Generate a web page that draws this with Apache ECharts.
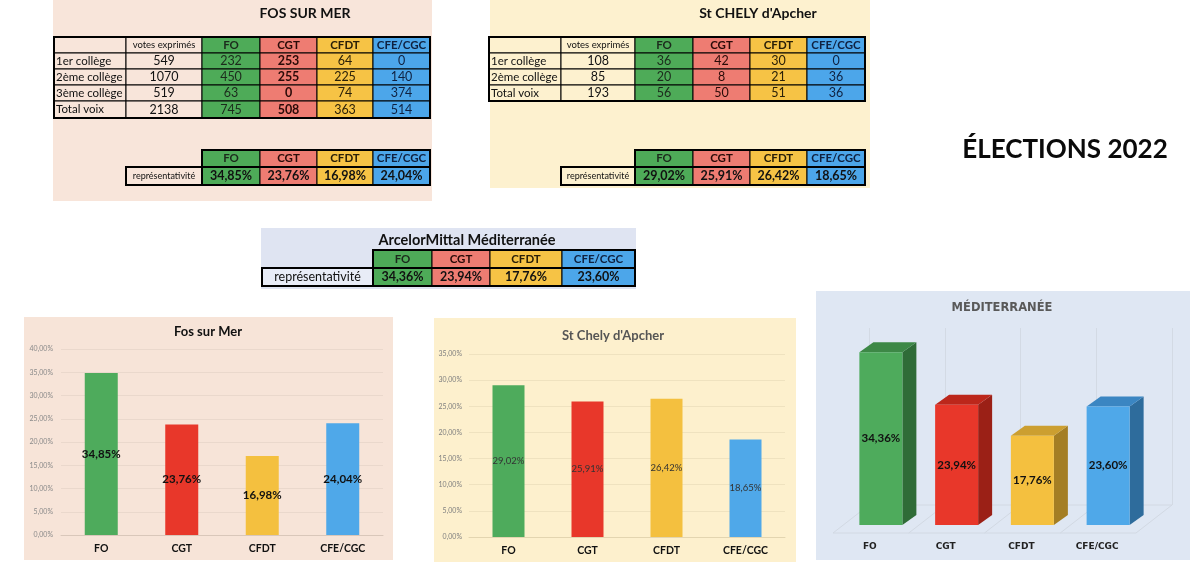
<!DOCTYPE html>
<html><head><meta charset="utf-8">
<script src="https://cdn.jsdelivr.net/npm/echarts@6.0.0/dist/echarts.min.js"></script>
<style>html,body{margin:0;padding:0;background:#fff}#c{width:1200px;height:566px}</style>
</head><body><div id="c"></div>
<script>
// ---------- DATA ----------
const parties = ['FO', 'CGT', 'CFDT', 'CFE/CGC'];
const fosRowLabels = ['1er collège', '2ème collège', '3ème collège', 'Total voix'];
const fosVotes = [549, 1070, 519, 2138];
const fosFO = [232, 450, 63, 745];
const fosCGT = [253, 255, 0, 508];
const fosCFDT = [64, 225, 74, 363];
const fosCFE = [0, 140, 374, 514];
const fosRep = [34.85, 23.76, 16.98, 24.04];

const chelyRowLabels = ['1er collège', '2ème collège', 'Total voix'];
const chelyVotes = [108, 85, 193];
const chelyFO = [36, 20, 56];
const chelyCGT = [42, 8, 50];
const chelyCFDT = [30, 21, 51];
const chelyCFE = [0, 36, 36];
const chelyRep = [29.02, 25.91, 26.42, 18.65];

const medRep = [34.36, 23.94, 17.76, 23.60];

const fosTitle = 'FOS SUR MER';
const chelyTitle = "St CHELY d'Apcher";
const medTableTitle = 'ArcelorMittal Méditerranée';
const mainTitle = 'ÉLECTIONS 2022';
const chart1Title = 'Fos sur Mer';
const chart2Title = "St Chely d'Apcher";
const chart3Title = 'MÉDITERRANÉE';
const votesHeader = 'votes exprimés';
const repLabel = 'représentativité';

// ---------- STYLE ----------
const fmt = v => v.toFixed(2).replace('.', ',') + '%';
const cellFill = ['#4eab58', '#ee7c72', '#f6c345', '#4ca6ea'];
const barFill = ['#4eab5c', '#e8372a', '#f4c03f', '#4fa8e9'];
const topFill = ['#3d8846', '#bc271b', '#cc9f30', '#3b86c2'];
const sideFill = ['#2f6c37', '#9b2016', '#a47e24', '#2e6c9c'];
const F = 'Lato, "Open Sans", sans-serif';

const G = [];
function rect(x, y, w, h, fill, stroke, lw, z) {
  G.push({type: 'rect', silent: true, z: z == null ? 10 : z,
    shape: {x: x, y: y, width: w, height: h},
    style: {fill: fill || 'none', stroke: stroke || 'none', lineWidth: lw || 0}});
}
function txt(x, y, t, font, fill, align, z) {
  const a = align || 'center';
  G.push({type: 'text', silent: true, z: z == null ? 12 : z, x: x, y: y,
    style: {text: String(t), font: font, fill: fill || '#111', align: a, verticalAlign: 'middle',
      textAlign: a, textVerticalAlign: 'middle'}});
}
function line(x1, y1, x2, y2, c, z) {
  G.push({type: 'line', silent: true, z: z == null ? -1 : z,
    shape: {x1: x1, y1: y1, x2: x2, y2: y2}, style: {stroke: c, lineWidth: 1}});
}

// panels
rect(53, 0, 379, 201, '#f8e5da', null, 0, -5);
rect(490, 0, 380, 188, '#fdf1cf', null, 0, -5);
rect(261, 228, 375, 61, '#dfe4f2', null, 0, -5);
rect(24, 317, 369, 243, '#f7e4d8', null, 0, -5);
rect(434, 318, 362, 244, '#fdf0cd', null, 0, -5);
rect(816, 291, 374, 269, '#dfe7f3', null, 0, -5);

const txtCol = ['#1c2a1c', '#2a0b08', '#2a2008', '#0f2140'];

function bigTable(cols, rows, bg, labels, votes, byParty, boldCGT) {
  rect(cols[0], rows[0], cols[1] - cols[0], rows[1] - rows[0], bg, '#000', 1);
  rect(cols[1], rows[0], cols[2] - cols[1], rows[1] - rows[0], bg, '#000', 1);
  txt((cols[1] + cols[2]) / 2, (rows[0] + rows[1]) / 2, votesHeader, '9.5px ' + F, '#111');
  for (let p = 0; p < 4; p++) {
    const x = cols[p + 2], w = cols[p + 3] - x;
    rect(x, rows[0], w, rows[1] - rows[0], cellFill[p], '#000', 1);
    txt(x + w / 2, (rows[0] + rows[1]) / 2, parties[p], 'bold 11.5px ' + F, txtCol[p]);
  }
  for (let r = 0; r < labels.length; r++) {
    const y = rows[r + 1], h = rows[r + 2] - y, cy = y + h / 2;
    rect(cols[0], y, cols[1] - cols[0], h, bg, '#000', 1);
    txt(cols[0] + 2, cy, labels[r], '11.5px ' + F, '#111', 'left');
    rect(cols[1], y, cols[2] - cols[1], h, bg, '#000', 1);
    txt((cols[1] + cols[2]) / 2, cy, votes[r], '12.5px ' + F, '#111');
    for (let p = 0; p < 4; p++) {
      const x = cols[p + 2], w = cols[p + 3] - x;
      rect(x, y, w, h, cellFill[p], '#000', 1);
      txt(x + w / 2, cy, byParty[p][r], ((boldCGT && p === 1) ? 'bold ' : '') + '12.5px ' + F, txtCol[p]);
    }
  }
  rect(cols[0], rows[0], cols[6] - cols[0], rows[rows.length - 1] - rows[0], null, '#000', 2, 11);
}
function repTable(cols, rows, bg, rep, labelFont, valFont, labelFill) {
  for (let p = 0; p < 4; p++) {
    const x = cols[p + 1], w = cols[p + 2] - x;
    rect(x, rows[0], w, rows[1] - rows[0], cellFill[p], '#000', 1);
    txt(x + w / 2, (rows[0] + rows[1]) / 2, parties[p], 'bold 11.5px ' + F, txtCol[p]);
    rect(x, rows[1], w, rows[2] - rows[1], cellFill[p], '#000', 1);
    txt(x + w / 2, (rows[1] + rows[2]) / 2, fmt(rep[p]), valFont, '#111');
  }
  rect(cols[0], rows[1], cols[1] - cols[0], rows[2] - rows[1], labelFill || bg, '#000', 1);
  txt((cols[0] + cols[1]) / 2, (rows[1] + rows[2]) / 2, repLabel, labelFont, '#111');
  rect(cols[1], rows[0], cols[5] - cols[1], rows[2] - rows[0], null, '#000', 2, 11);
  rect(cols[0], rows[1], cols[5] - cols[0], rows[2] - rows[1], null, '#000', 2, 11);
}

// FOS tables
txt(305, 13, fosTitle, 'bold 14px ' + F, '#111');
bigTable([54, 126, 202, 260, 317, 373, 430], [37, 53, 69, 85, 101, 118], '#f8e5da',
  fosRowLabels, fosVotes, [fosFO, fosCGT, fosCFDT, fosCFE], true);
repTable([126, 202, 260, 317, 373, 430], [150, 167, 185], '#f8e5da', fosRep, '9px ' + F, 'bold 12.5px ' + F);

// St Chely tables
txt(758, 13, chelyTitle, 'bold 14px ' + F, '#111');
bigTable([489, 561, 635, 693, 750, 807, 865], [37, 53, 69, 85, 101], '#fdf1cf',
  chelyRowLabels, chelyVotes, [chelyFO, chelyCGT, chelyCFDT, chelyCFE], false);
repTable([561, 635, 693, 750, 807, 865], [150, 167, 185], '#fdf1cf', chelyRep, '9px ' + F, 'bold 12.5px ' + F);

// Méditerranée table
txt(467, 240, medTableTitle, 'bold 14.5px ' + F, '#111');
repTable([262, 373, 432, 490, 562, 635], [250, 268, 286], '#dfe4f2', medRep, '12.5px ' + F, 'bold 12.5px ' + F, '#e8ecf7');

// main title
txt(1065, 150, mainTitle, 'bold 26px ' + F, '#0a0a0a');

// chart titles
txt(208, 332, chart1Title, 'bold 13px ' + F, '#111');
txt(613, 336, chart2Title, 'bold 13px ' + F, '#555');
txt(1002, 308, chart3Title, 'bold 11.5px "DejaVu Sans", sans-serif', '#595959');

// 3D floor (decoration)
const backXs = [869, 944.75, 1020.5, 1096.25, 1172];
line(backXs[0], 505, backXs[4], 505, '#d2d9e3');
line(backXs[0] - 36, 533, backXs[4] - 36, 533, '#d2d9e3');
backXs.forEach(x => line(x, 505, x - 36, 533, '#d2d9e3'));

const barLabel = {show: true, position: 'inside', formatter: p => fmt(p.value)};

const option = {
  animation: false,
  backgroundColor: '#ffffff',
  grid: [
    {left: 61, top: 349, width: 322, height: 186, outerBoundsMode: 'none'},
    {left: 469, top: 354, width: 316, height: 183, outerBoundsMode: 'none'},
    {left: 843, top: 324, width: 303, height: 201, outerBoundsMode: 'none'},
    {left: 869, top: 328, width: 303, height: 177, outerBoundsMode: 'none'}
  ],
  xAxis: [
    {gridIndex: 0, type: 'category', data: parties,
      axisLine: {lineStyle: {color: '#d9c7ba'}}, axisTick: {show: false},
      axisLabel: {fontFamily: F, fontWeight: 'bold', fontSize: 10.5, color: '#111', margin: 8}},
    {gridIndex: 1, type: 'category', data: parties,
      axisLine: {lineStyle: {color: '#e3d5b0'}}, axisTick: {show: false},
      axisLabel: {fontFamily: F, fontWeight: 'bold', fontSize: 10.5, color: '#111', margin: 8}},
    {gridIndex: 2, type: 'category', data: parties,
      axisLine: {show: false}, axisTick: {show: false},
      axisLabel: {fontFamily: '"DejaVu Sans", sans-serif', fontWeight: 'bold', fontSize: 9, color: '#222',
        margin: 17, padding: [0, 22, 0, 0]}},
    {gridIndex: 3, type: 'category', data: parties,
      axisLine: {show: false}, axisTick: {show: false}, axisLabel: {show: false},
      splitLine: {show: true, interval: 0, lineStyle: {color: '#d3dae4', width: 1}}}
  ],
  yAxis: [
    {gridIndex: 0, type: 'value', min: 0, max: 40, interval: 5,
      axisLine: {show: false}, axisTick: {show: false},
      axisLabel: {formatter: fmt, fontFamily: F, fontSize: 7, color: '#8a8a8a', margin: 8},
      splitLine: {lineStyle: {color: '#ead8cc'}}},
    {gridIndex: 1, type: 'value', min: 0, max: 35, interval: 5,
      axisLine: {show: false}, axisTick: {show: false},
      axisLabel: {formatter: fmt, fontFamily: F, fontSize: 7, color: '#7f7f7f', margin: 7},
      splitLine: {lineStyle: {color: '#efe2bf'}}},
    {gridIndex: 2, type: 'value', min: 0, max: 40, show: false},
    {gridIndex: 3, type: 'value', min: 0, max: 1, show: false}
  ],
  series: [
    {type: 'bar', xAxisIndex: 0, yAxisIndex: 0, barWidth: 33,
      data: fosRep.map((v, i) => ({value: v, itemStyle: {color: barFill[i]}})),
      label: Object.assign({}, barLabel, {fontFamily: F, fontWeight: 'bold', fontSize: 11.5, color: '#111'})},
    {type: 'bar', xAxisIndex: 1, yAxisIndex: 1, barWidth: 32,
      data: chelyRep.map((v, i) => ({value: v, itemStyle: {color: barFill[i]}})),
      label: Object.assign({}, barLabel, {fontFamily: F, fontSize: 9.5, color: '#333'})},
    {type: 'custom', xAxisIndex: 2, yAxisIndex: 2,
      data: medRep.map((v, i) => [i, v]),
      renderItem: function (params, api) {
        const i = api.value(0), v = api.value(1);
        const b = api.coord([i, 0]), t = api.coord([i, v]);
        const hw = 21.5, dx = 14, dy = 10;
        const x0 = b[0] - hw, x1 = b[0] + hw, yb = b[1], yt = t[1];
        return {type: 'group', children: [
          {type: 'polygon', shape: {points: [[x1, yb], [x1 + dx, yb - dy], [x1 + dx, yt - dy], [x1, yt]]},
            style: {fill: sideFill[i]}},
          {type: 'polygon', shape: {points: [[x0, yt], [x0 + dx, yt - dy], [x1 + dx, yt - dy], [x1, yt]]},
            style: {fill: topFill[i]}},
          {type: 'rect', shape: {x: x0, y: yt, width: 2 * hw, height: yb - yt}, style: {fill: barFill[i]}},
          {type: 'text', x: b[0], y: (yb + yt) / 2, z2: 10,
            style: {text: fmt(v), font: 'bold 11.5px ' + F, fill: '#111', align: 'center', verticalAlign: 'middle'}}
        ]};
      }}
  ],
  graphic: G
};
const chart = echarts.init(document.getElementById('c'), null, {renderer: 'canvas'});
chart.setOption(option);
</script></body></html>
